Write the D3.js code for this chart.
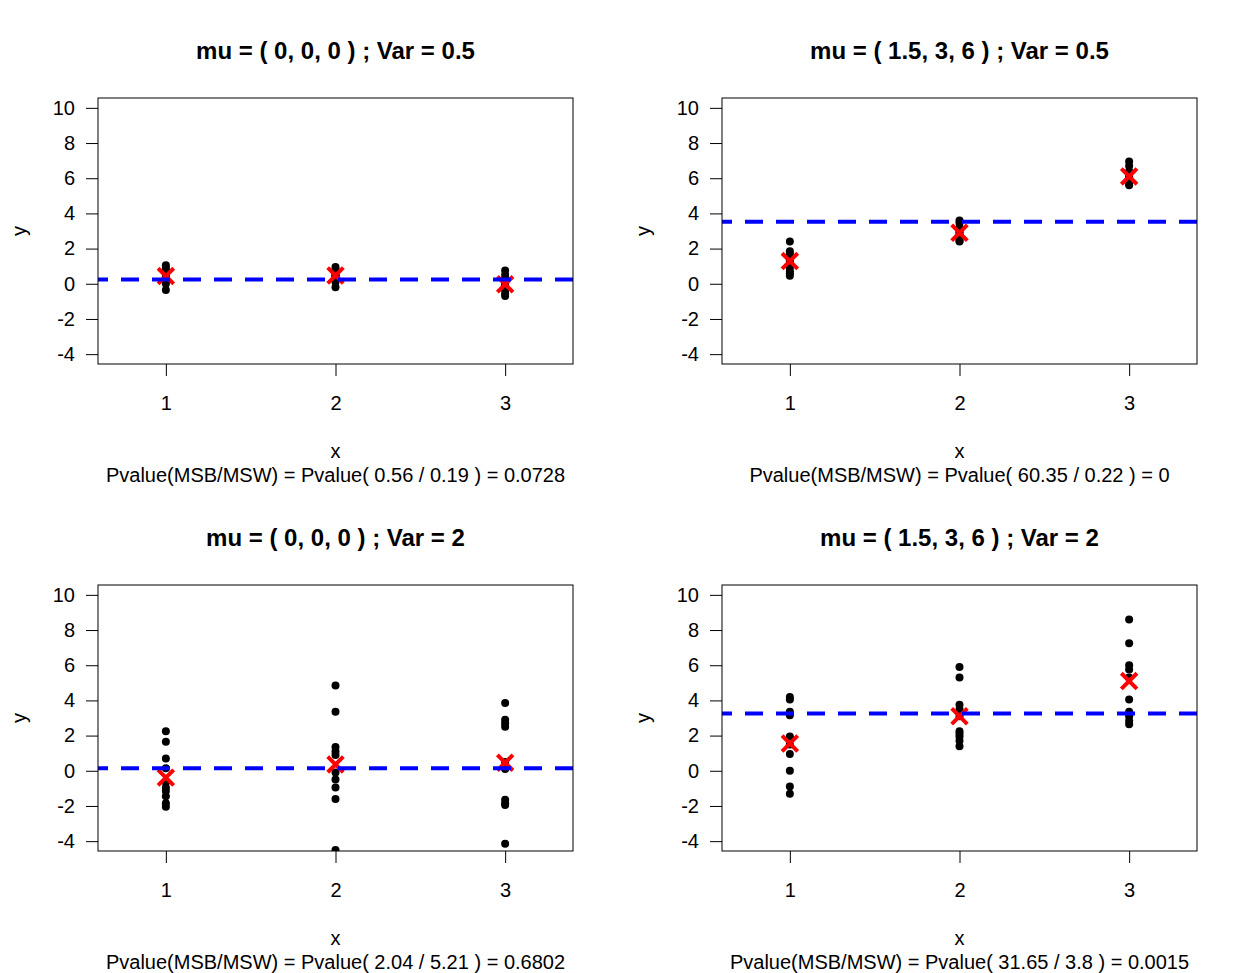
<!DOCTYPE html>
<html><head><meta charset="utf-8">
<script src="https://cdn.jsdelivr.net/npm/d3@7"></script>
<style>body{margin:0;background:#fff}svg{display:block}text{font-family:"Liberation Sans",Arial,sans-serif}</style>
</head><body>
<svg id="c" width="1248" height="973"></svg>
<script>
const titles = ["mu = ( 0, 0, 0 ) ; Var = 0.5","mu = ( 1.5, 3, 6 ) ; Var = 0.5","mu = ( 0, 0, 0 ) ; Var = 2","mu = ( 1.5, 3, 6 ) ; Var = 2"];
const subtitles = ["Pvalue(MSB/MSW) = Pvalue( 0.56 / 0.19 ) = 0.0728","Pvalue(MSB/MSW) = Pvalue( 60.35 / 0.22 ) = 0","Pvalue(MSB/MSW) = Pvalue( 2.04 / 5.21 ) = 0.6802","Pvalue(MSB/MSW) = Pvalue( 31.65 / 3.8 ) = 0.0015"];
const groups = [1,2,3];
const yTicks = [-4,-2,0,2,4,6,8,10];
// observations per panel, per group
const p1g1 = [1.05,0.9,0.75,0.6,0.5,0.4,0.3,0.15,0.0,-0.35];
const p1g2 = [0.95,0.8,0.7,0.6,0.5,0.45,0.4,0.3,0.1,-0.2];
const p1g3 = [0.75,0.5,0.3,0.1,0.0,-0.1,-0.2,-0.35,-0.55,-0.7];
const p2g1 = [2.4,1.85,1.7,1.4,1.3,1.3,0.9,0.7,0.6,0.45];
const p2g2 = [3.6,3.45,3.2,3.0,2.9,2.8,2.7,2.6,2.45,2.4];
const p2g3 = [6.95,6.7,6.4,6.25,6.1,6.0,5.9,5.8,5.7,5.6];
const p3g1 = [2.25,1.65,0.7,0.15,-0.65,-0.95,-1.15,-1.45,-1.85,-2.05];
const p3g2 = [4.85,3.35,1.35,1.1,0.9,-0.1,-0.5,-0.95,-1.6,-4.5];
const p3g3 = [3.85,2.9,2.7,2.5,0.5,0.1,-1.65,-1.85,-1.95,-4.15];
const p4g1 = [4.2,4.05,3.35,3.15,1.95,1.5,0.95,0.0,-0.9,-1.3];
const p4g2 = [5.9,5.3,3.75,3.5,3.1,2.25,2.1,1.95,1.7,1.4];
const p4g3 = [8.6,7.25,6.0,5.75,5.3,4.05,3.35,3.1,2.85,2.65];
// group means (red X) and grand mean (blue dashed line)
const means1 = [0.44,0.47,-0.03], grand1 = 0.25;
const means2 = [1.29,2.9,6.1], grand2 = 3.52;
const means3 = [-0.39,0.36,0.46], grand3 = 0.14;
const means4 = [1.55,3.1,5.1], grand4 = 3.25;

const panels = [
  {obs:[p1g1,p1g2,p1g3], means:means1, grand:grand1},
  {obs:[p2g1,p2g2,p2g3], means:means2, grand:grand2},
  {obs:[p3g1,p3g2,p3g3], means:means3, grand:grand3},
  {obs:[p4g1,p4g2,p4g3], means:means4, grand:grand4}
];

const svg = d3.select("#c");
const W = 475, H = 266;
const origins = [[98,98],[722,98],[98,585],[722,585]];
const fmt = d => String(d); // hyphen-minus like R

panels.forEach((p,i)=>{
  const [ox,oy] = origins[i];
  const g = svg.append("g").attr("transform",`translate(${ox},${oy})`);
  const x = d3.scaleLinear().domain([0.6,3.4]).range([0,W]);
  const y = d3.scaleLinear().domain([-4.56,10.56]).range([H,0]);
  const cid = "clip"+i;
  g.append("clipPath").attr("id",cid).append("rect").attr("width",W).attr("height",H);
  const plot = g.append("g").attr("clip-path",`url(#${cid})`);
  p.obs.forEach((arr,gi)=>{
    plot.selectAll(null).data(arr).enter().append("circle")
      .attr("cx",x(groups[gi])).attr("cy",d=>y(d)).attr("r",4).attr("fill","#000");
  });
  const s = 7.8;
  p.means.forEach((m,gi)=>{
    const cx = x(groups[gi]), cy = y(m);
    plot.append("path").attr("d",`M${cx-s},${cy-s}L${cx+s},${cy+s}M${cx-s},${cy+s}L${cx+s},${cy-s}`)
      .attr("stroke","#ff0000").attr("stroke-width",4).attr("fill","none");
  });
  plot.append("line").attr("x1",0).attr("x2",W).attr("y1",y(p.grand)).attr("y2",y(p.grand))
    .attr("stroke","#0000ff").attr("stroke-width",4).attr("stroke-dasharray","18,13").attr("stroke-dashoffset",8);
  g.append("rect").attr("width",W).attr("height",H).attr("fill","none").attr("stroke","#000").attr("stroke-width",1);
  const ya = g.append("g").call(d3.axisLeft(y).tickValues(yTicks).tickSize(12).tickPadding(11).tickFormat(fmt));
  ya.select(".domain").remove();
  ya.selectAll("text").attr("font-size",20).attr("fill","#000").attr("font-family","Liberation Sans, Arial, sans-serif");
  ya.selectAll("line").attr("stroke","#000");
  const xa = g.append("g").attr("transform",`translate(0,${H})`).call(d3.axisBottom(x).tickValues(groups).tickSize(12).tickPadding(20).tickFormat(fmt));
  xa.select(".domain").remove();
  xa.selectAll("text").attr("font-size",20).attr("fill","#000").attr("font-family","Liberation Sans, Arial, sans-serif");
  xa.selectAll("line").attr("stroke","#000");
  g.append("text").attr("x",W/2).attr("y",-39).attr("text-anchor","middle").attr("font-size",24).attr("font-weight","bold").text(titles[i]);
  g.append("text").attr("x",W/2).attr("y",H+94).attr("text-anchor","middle").attr("font-size",20).text("x");
  g.append("text").attr("x",W/2).attr("y",H+118).attr("text-anchor","middle").attr("font-size",20).text(subtitles[i]);
  g.append("text").attr("transform",`translate(${-72},${H/2}) rotate(-90)`).attr("text-anchor","middle").attr("font-size",20).text("y");
});
</script>
</body></html>
